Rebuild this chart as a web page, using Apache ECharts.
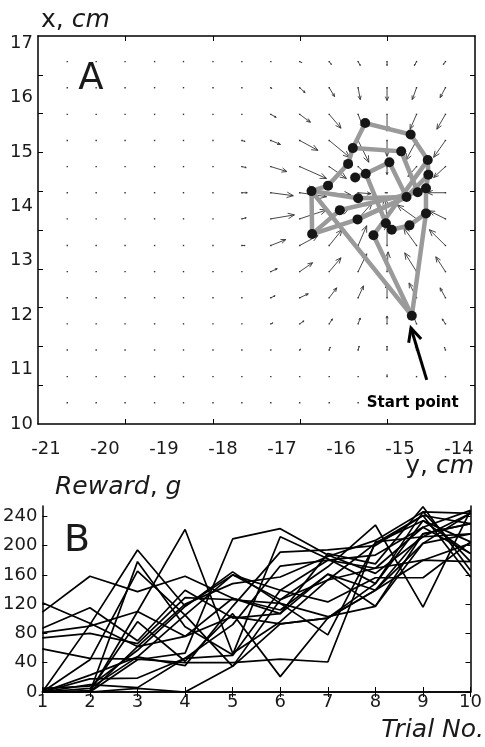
<!DOCTYPE html>
<html><head><meta charset="utf-8">
<script src="https://cdn.jsdelivr.net/npm/echarts@6/dist/echarts.min.js"></script>
<style>html,body{margin:0;padding:0;background:#fff}#c{width:485px;height:747px}</style>
</head><body><div id="c"></div>
<script>
// ---------- Panel A data ----------
const xLabelsA = [-21, -20, -19, -18, -17, -16, -15, -14];   // "y, cm"
const yLabelsA = [10, 11, 12, 13, 14, 15, 16, 17];            // "x, cm"
const X_MIN = -21.136, X_MAX = -13.729, Y_MIN = 10.0, Y_MAX = 17.13;

// quiver grid (cm)
const quiverCols = [-20.64, -20.15, -19.66, -19.16, -18.67, -18.17, -17.68, -17.19, -16.70, -16.20, -15.71, -15.22, -14.72, -14.23];
const quiverRows = [16.66, 16.18, 15.69, 15.21, 14.73, 14.25, 13.77, 13.28, 12.80, 12.32, 11.84, 11.36, 10.87, 10.39];
// field components (arbitrary units), rows top->bottom, cols left->right
const quiverU = [
  [0,0,0,0,0,0, 0,0,2,2,2,0,-2,-2],
  [0,0,0,0,0,0, 0,1,5,5,2,0,-4,-5],
  [0,0,0,0,0,0, 1,5,10,11,5,0,-6,-8],
  [0,0,0,0,0,0, 3,9,17,19,10,0,-10,-11],
  [0,0,0,0,0,1, 4,15,25,16,10,0,-8,-11],
  [0,0,0,0,0,1, 5,21,25,20,12,-2,-12,-17],
  [0,0,0,0,0,1, 4,22,25,18,13,-2,-18,-15],
  [0,0,0,0,0,0, 3,14,17,12,8,0,-12,-15],
  [0,0,0,0,0,0, 1,6,12,11,8,1,-11,-9],
  [0,0,0,0,0,0, 0,4,8,7,5,0,-7,-5],
  [0,0,0,0,0,0, 0,2,4,3,2,0,-3,-3],
  [0,0,0,0,0,0, 0,0,1,1,1,0,-1,-1],
  [0,0,0,0,0,0, 0,0,0,0,0,0,0,0],
  [0,0,0,0,0,0, 0,0,0,0,0,0,0,0]
];
const quiverV = [
  [0,0,0,0,0,0, 0,0,-1,-3,-4,-4,-4,-3],
  [0,0,0,0,0,0, 0,-1,-5,-9,-12,-13,-12,-10],
  [0,0,0,0,0,0, 0,-3,-8,-14,-14,-17,-15,-15],
  [0,0,0,0,0,0, -1,-4,-10,-17,-22,-16,-20,-17],
  [0,0,0,0,0,0, -1,-5,-12,-12,-10,-8,-10,-11],
  [0,0,0,0,0,0, 0,-3,-4,-2,-1,0,0,0],
  [0,0,0,0,0,0, 1,4,9,10,16,21,14,8],
  [0,0,0,0,0,0, 0,6,10,16,20,22,18,16],
  [0,0,0,0,0,0, 0,3,9,14,18,20,19,15],
  [0,0,0,0,0,0, 0,2,4,10,12,14,15,10],
  [0,0,0,0,0,0, 0,1,3,5,6,8,8,5],
  [0,0,0,0,0,0, 0,0,1,3,4,4,4,3],
  [0,0,0,0,0,0, 0,0,0,1,1,2,1,1],
  [0,0,0,0,0,0, 0,0,0,0,0,0,0,0]
];
const QUIVER_SCALE = 1 / 55;   // cm per field unit

// trajectory points [y(cm) horizontal, x(cm) vertical]
const trajPoints = [
  [-15.59, 15.53], [-14.82, 15.32], [-15.80, 15.07], [-14.98, 15.01], [-14.53, 14.85],
  [-15.88, 14.78], [-15.18, 14.81], [-15.58, 14.60], [-15.76, 14.53], [-14.52, 14.58],
  [-16.22, 14.38], [-16.50, 14.28], [-14.70, 14.26], [-14.56, 14.33], [-14.89, 14.17],
  [-15.71, 14.15], [-16.02, 13.93], [-14.56, 13.87], [-15.72, 13.76], [-15.24, 13.69],
  [-15.14, 13.57], [-14.84, 13.65], [-15.45, 13.47], [-16.49, 13.49], [-14.80, 11.99]
];
const trajPaths = [
  [24, 11, 23, 18, 14],
  [11, 15, 14, 6, 7, 19, 20, 21, 17],
  [24, 17, 13, 9, 4, 1, 0, 2, 5, 10, 11],
  [2, 3, 12],
  [24, 22, 4],
  [23, 16, 12],
  [8, 7],
  [9, 14, 18]
];
const startArrow = [[-14.547, 10.81, -14.814, 11.764]];
const startLabel = 'Start point';

// ---------- Panel B data ----------
const trials = [1, 2, 3, 4, 5, 6, 7, 8, 9, 10];
const rewardTicks = [0, 40, 80, 120, 160, 200, 240];
const rewardLines = [
  [0, 0, 110, 222, 53, 96, 153, 203, 241, 230],
  [0, 92, 194, 117, 160, 139, 180, 169, 225, 189],
  [0, 0, 178, 89, 51, 212, 182, 148, 234, 205],
  [0, 44, 165, 105, 35, 126, 171, 228, 116, 248],
  [0, 0, 44, 53, 209, 223, 187, 162, 212, 216],
  [122, 94, 62, 120, 148, 157, 185, 207, 246, 178],
  [109, 158, 137, 158, 128, 112, 161, 139, 203, 244],
  [87, 115, 70, 139, 101, 107, 189, 175, 253, 166],
  [81, 90, 110, 76, 103, 93, 101, 139, 180, 203],
  [74, 80, 66, 129, 126, 121, 103, 117, 216, 230],
  [59, 46, 45, 40, 40, 45, 41, 205, 212, 244],
  [0, 23, 48, 36, 117, 191, 194, 200, 241, 157],
  [0, 18, 19, 46, 92, 172, 180, 187, 225, 248],
  [0, 10, 6, 46, 50, 139, 123, 156, 156, 205],
  [5, 8, 57, 117, 164, 121, 78, 203, 234, 189],
  [0, 2, 96, 42, 107, 21, 101, 139, 216, 230],
  [0, 0, 62, 76, 128, 107, 161, 117, 203, 216],
  [0, 5, 48, 105, 160, 126, 153, 169, 180, 178],
  [0, 0, 5, 0, 35, 93, 101, 148, 246, 244]
];

// ---------- build ----------
const FONT = 'DejaVu Sans';
const TXT = '#1a1a1a';
const tickXA = [1, 2, 3, 4].map(k => X_MIN + k * (X_MAX - X_MIN) / 5);
const tickYA = [1, 2, 3, 4, 5, 6, 7, 8, 9].map(k => Y_MIN + k * (Y_MAX - Y_MIN) / 10);

const quiverData = [];
quiverRows.forEach((y, r) => quiverCols.forEach((x, c) => {
  quiverData.push([x, y, quiverU[r][c], quiverV[r][c]]);
}));

const boxLine = { show: true, lineStyle: { color: '#000', width: 1.5 } };
const tickStyle = { color: '#000', width: 1 };
const labelStyle = { fontFamily: FONT, fontSize: 18, color: TXT };

const chart = echarts.init(document.getElementById('c'), null, { renderer: 'canvas' });

const series = [
  {
    type: 'custom', xAxisIndex: 0, yAxisIndex: 0, z: 2, silent: true,
    dimensions: ['x', 'y', 'u', 'v'], encode: { x: 0, y: 1 },
    data: quiverData,
    renderItem: function (params, api) {
      const x = api.value(0), y = api.value(1), u = api.value(2), v = api.value(3);
      const p0 = api.coord([x, y]);
      const p1 = api.coord([x + u * QUIVER_SCALE, y + v * QUIVER_SCALE]);
      const children = [{ type: 'rect', shape: { x: p0[0] - 0.7, y: p0[1] - 0.7, width: 1.4, height: 1.4 }, style: { fill: '#333' } }];
      const dx = p1[0] - p0[0], dy = p1[1] - p0[1], len = Math.hypot(dx, dy);
      if (len > 1.2) {
        const a = Math.atan2(dy, dx), h = Math.min(len * 0.33, 7);
        children.push({ type: 'line', shape: { x1: p0[0], y1: p0[1], x2: p1[0], y2: p1[1] }, style: { stroke: '#333', lineWidth: 0.9 } });
        children.push({ type: 'polyline', shape: { points: [
          [p1[0] - h * Math.cos(a - 0.4), p1[1] - h * Math.sin(a - 0.4)], p1,
          [p1[0] - h * Math.cos(a + 0.4), p1[1] - h * Math.sin(a + 0.4)]] },
          style: { stroke: '#333', lineWidth: 0.9, fill: 'none' } });
      }
      return { type: 'group', children: children };
    }
  },
  {
    type: 'lines', coordinateSystem: 'cartesian2d', xAxisIndex: 0, yAxisIndex: 0, polyline: true, z: 3, silent: true,
    data: trajPaths.map(p => ({ coords: p.map(i => trajPoints[i]) })),
    lineStyle: { color: '#9a9a9a', width: 4.5, opacity: 1, curveness: 0 }
  },
  {
    type: 'scatter', xAxisIndex: 0, yAxisIndex: 0, z: 4, silent: true,
    data: trajPoints, symbolSize: 10, itemStyle: { color: '#161616', opacity: 1 }
  },
  {
    type: 'custom', xAxisIndex: 0, yAxisIndex: 0, z: 5, silent: true,
    data: startArrow, encode: { x: [0, 2], y: [1, 3] },
    renderItem: function (params, api) {
      const p0 = api.coord([api.value(0), api.value(1)]);
      const p1 = api.coord([api.value(2), api.value(3)]);
      const a = Math.atan2(p1[1] - p0[1], p1[0] - p0[0]), h = 15;
      return { type: 'group', children: [
        { type: 'line', shape: { x1: p0[0], y1: p0[1], x2: p1[0], y2: p1[1] }, style: { stroke: '#000', lineWidth: 3 } },
        { type: 'polyline', shape: { points: [
          [p1[0] - h * Math.cos(a - 0.45), p1[1] - h * Math.sin(a - 0.45)], p1,
          [p1[0] - h * Math.cos(a + 0.45), p1[1] - h * Math.sin(a + 0.45)]] },
          style: { stroke: '#000', lineWidth: 3, fill: 'none', lineJoin: 'miter' } },
        { type: 'text', x: p0[0] - 14, y: p0[1] + 23, style: { text: startLabel, align: 'center', verticalAlign: 'middle',
          fontFamily: FONT, fontWeight: 'bold', fontSize: 15, fill: '#000' } }
      ] };
    }
  }
];
rewardLines.forEach(vals => {
  series.push({
    type: 'line', xAxisIndex: 2, yAxisIndex: 2, symbol: 'none', silent: true, z: 2,
    data: trials.map((t, i) => [t, vals[i]]),
    lineStyle: { color: '#000', width: 1.7 }
  });
});

chart.setOption({
  animation: false,
  backgroundColor: '#fff',
  grid: [
    { left: 38, top: 36, width: 437, height: 388 },
    { left: 38, top: 506, width: 438, height: 186 }
  ],
  xAxis: [
    { gridIndex: 0, type: 'value', position: 'bottom', min: X_MIN, max: X_MAX,
      axisLine: boxLine, splitLine: { show: false },
      axisTick: { show: true, inside: true, length: 5, customValues: tickXA, lineStyle: tickStyle },
      axisLabel: Object.assign({ customValues: xLabelsA, margin: 16 }, labelStyle) },
    { gridIndex: 0, type: 'value', position: 'top', min: X_MIN, max: X_MAX,
      axisLine: boxLine, splitLine: { show: false },
      axisTick: { show: true, inside: true, length: 5, customValues: tickXA, lineStyle: tickStyle },
      axisLabel: { show: false } },
    { gridIndex: 1, type: 'value', position: 'bottom', min: 1, max: 10, interval: 1,
      axisLine: boxLine, splitLine: { show: false },
      axisTick: { show: true, inside: true, length: 5, lineStyle: tickStyle },
      axisLabel: Object.assign({ margin: 1, showMinLabel: true, showMaxLabel: true }, labelStyle) },
    { gridIndex: 1, type: 'value', position: 'top', min: 1, max: 10, interval: 1,
      axisLine: boxLine, splitLine: { show: false },
      axisTick: { show: true, inside: true, length: 5, lineStyle: tickStyle },
      axisLabel: { show: false } }
  ],
  yAxis: [
    { gridIndex: 0, type: 'value', position: 'left', min: Y_MIN, max: Y_MAX,
      axisLine: boxLine, splitLine: { show: false },
      axisTick: { show: true, inside: true, length: 5, customValues: tickYA, lineStyle: tickStyle },
      axisLabel: Object.assign({ customValues: yLabelsA, margin: 5 }, labelStyle) },
    { gridIndex: 0, type: 'value', position: 'right', min: Y_MIN, max: Y_MAX,
      axisLine: boxLine, splitLine: { show: false },
      axisTick: { show: true, inside: true, length: 5, customValues: tickYA, lineStyle: tickStyle },
      axisLabel: { show: false } },
    { gridIndex: 1, type: 'value', position: 'left', min: 0, max: 254,
      axisLine: boxLine, splitLine: { show: false },
      axisTick: { show: true, inside: true, length: 5, customValues: rewardTicks, lineStyle: tickStyle },
      axisLabel: Object.assign({ customValues: rewardTicks, margin: 5 }, labelStyle) },
    { gridIndex: 1, type: 'value', position: 'right', min: 0, max: 254,
      axisLine: boxLine, splitLine: { show: false },
      axisTick: { show: true, inside: true, length: 5, customValues: rewardTicks, lineStyle: tickStyle },
      axisLabel: { show: false } }
  ],
  graphic: [
    { type: 'text', x: 41, y: 20, z: 10, style: { text: '{r|x, }{i|cm}', align: 'left', verticalAlign: 'middle',
      rich: { r: { fontFamily: FONT, fontSize: 25, fill: TXT }, i: { fontFamily: FONT, fontSize: 25, fontStyle: 'italic', fill: TXT } } } },
    { type: 'text', x: 474, y: 466, z: 10, style: { text: '{r|y, }{i|cm}', align: 'right', verticalAlign: 'middle',
      rich: { r: { fontFamily: FONT, fontSize: 25, fill: TXT }, i: { fontFamily: FONT, fontSize: 25, fontStyle: 'italic', fill: TXT } } } },
    { type: 'text', x: 55, y: 487, z: 10, style: { text: '{i|Reward}{r|, }{i|g}', align: 'left', verticalAlign: 'middle',
      rich: { r: { fontFamily: FONT, fontSize: 25, fill: TXT }, i: { fontFamily: FONT, fontSize: 25, fontStyle: 'italic', fill: TXT } } } },
    { type: 'text', x: 484, y: 730, z: 10, style: { text: 'Trial No.', align: 'right', verticalAlign: 'middle',
      fontFamily: FONT, fontSize: 25, fontStyle: 'italic', fill: TXT } },
    { type: 'text', x: 91, y: 79, z: 10, style: { text: 'A', align: 'center', verticalAlign: 'middle',
      fontFamily: FONT, fontSize: 37, fill: TXT } },
    { type: 'text', x: 77, y: 541, z: 10, style: { text: 'B', align: 'center', verticalAlign: 'middle',
      fontFamily: FONT, fontSize: 38, fill: TXT } }
  ],
  series: series
});
</script></body></html>
